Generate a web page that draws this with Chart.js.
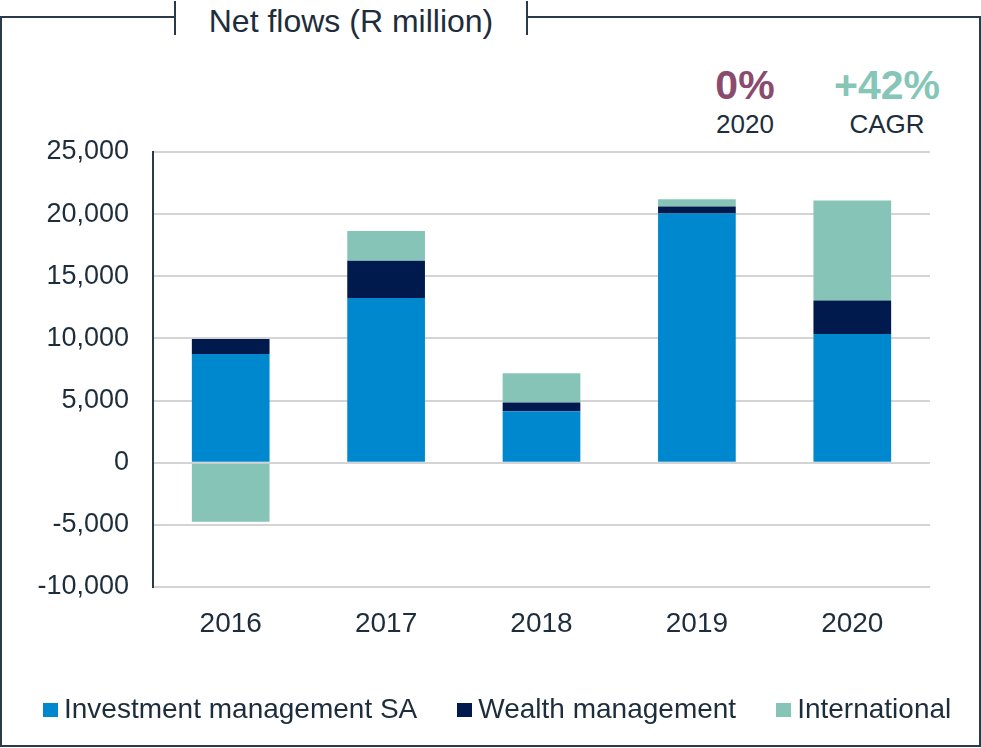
<!DOCTYPE html>
<html>
<head>
<meta charset="utf-8">
<script src="https://cdn.jsdelivr.net/npm/chart.js@4/dist/chart.umd.min.js"></script>
<style>
    body { margin: 0; background: #fff; font-family: "Liberation Sans", Arial, sans-serif; color: #1e2d3c; }
    #wrap { position: relative; width: 981px; height: 748px; overflow: hidden; }
    #frame { position: absolute; left: 0; top: 16px; width: 981px; height: 731px; box-sizing: border-box; border: 2px solid #2b3a49; }
    #title { position: absolute; left: 174px; top: 1px; width: 354px; height: 34px; box-sizing: border-box;
             border-left: 2px solid #2b3a49; border-right: 2px solid #2b3a49; background: #fff;
             font-size: 32px; line-height: 34px; padding-top: 3px; text-align: center; }
    .kpi { position: absolute; text-align: center; width: 160px; }
    .kpi .big { font-weight: bold; font-size: 41px; line-height: 44px; }
    .kpi .small { font-size: 26px; line-height: 34px; }
    #legend { position: absolute; top: 693px; left: 43px; display: flex; font-size: 28px; white-space: nowrap; }
    #legend .item { display: flex; align-items: center; margin-right: 40px; }
    #legend .box { width: 15px; height: 14px; margin-right: 6px; margin-top: 2px; }
    canvas { position: absolute; left: 0; top: 0; }
</style>
</head>
<body>
<div id="wrap">
    <div id="frame"></div>
    <div id="title">Net flows (R million)</div>
    <div class="kpi" style="left:665px; top:63px;">
        <div class="big" style="color:#8a4b6f;">0%</div>
        <div class="small">2020</div>
    </div>
    <div class="kpi" style="left:807px; top:63px;">
        <div class="big" style="color:#86c6b8;">+42%</div>
        <div class="small">CAGR</div>
    </div>
    <canvas id="flowsChart" width="981" height="748"></canvas>
    <div id="legend"></div>
</div>
<script>
// Net flows by business, R million
const years = ['2016', '2017', '2018', '2019', '2020'];
const investmentSA = [8750, 13250, 4150, 20050, 10350];
const wealth = [1200, 3000, 700, 560, 2700];
const international = [-4750, 2400, 2350, 580, 8050];
const seriesNames = ['Investment management SA', 'Wealth management', 'International'];
const seriesColors = ['#0088cf', '#001a4e', '#86c4b8'];
const yTicks = [-10000, -5000, 0, 5000, 10000, 15000, 20000, 25000];

const textColor = '#1e2d3c';

const datasets = [investmentSA, wealth, international].map((vals, i) => ({
    label: seriesNames[i],
    data: vals,
    backgroundColor: seriesColors[i],
    borderWidth: 0,
    categoryPercentage: 1,
    barPercentage: 0.5
}));

new Chart(document.getElementById('flowsChart').getContext('2d'), {
    type: 'bar',
    data: { labels: years, datasets: datasets },
    options: {
        responsive: false,
        animation: false,
        layout: { autoPadding: false, padding: { left: 0, right: 51, top: 152, bottom: 101 } },
        plugins: { legend: { display: false }, tooltip: { enabled: false } },
        scales: {
            x: {
                stacked: true,
                grid: { display: false, drawTicks: false },
                border: { display: false },
                ticks: { color: textColor, font: { family: 'Liberation Sans', size: 28 }, padding: 20 },
                afterFit: scale => { scale.height = 60; }
            },
            y: {
                stacked: true,
                min: yTicks[0],
                max: yTicks[yTicks.length - 1],
                afterBuildTicks: scale => { scale.ticks = yTicks.map(v => ({ value: v })); },
                grid: { color: '#d4d4d4', lineWidth: 2, drawTicks: false },
                border: { color: '#2b3a49', width: 2 },
                ticks: {
                    color: textColor,
                    font: { family: 'Liberation Sans', size: 27 },
                    padding: 24,
                    callback: v => v.toLocaleString('en-US')
                },
                afterFit: scale => { scale.width = 153; }
            }
        }
    }
});

// Legend row under the chart
const legend = document.getElementById('legend');
seriesNames.forEach((name, i) => {
    const item = document.createElement('div');
    item.className = 'item';
    item.innerHTML = `<span class="box" style="background:${seriesColors[i]}"></span><span>${name}</span>`;
    legend.appendChild(item);
});
</script>
</body>
</html>
